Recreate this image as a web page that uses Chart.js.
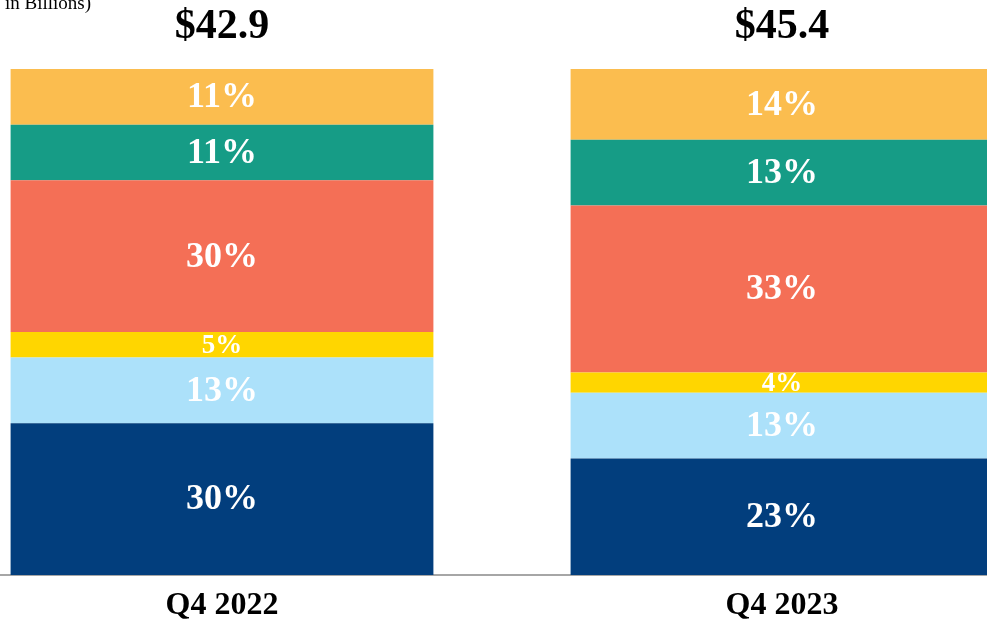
<!DOCTYPE html>
<html>
<head>
<meta charset="utf-8">
<script src="https://cdn.jsdelivr.net/npm/chart.js@4"></script>
<style>
  html, body { margin: 0; padding: 0; background: #fff; overflow: hidden; }
  #wrap { position: absolute; left: -58px; top: 0; width: 1120px; height: 623px; }
</style>
</head>
<body>
<div id="wrap"><canvas id="chart" width="1120" height="623"></canvas></div>
<script>
// quarters and their totals ($ in billions)
const quarters = ['Q4 2022', 'Q4 2023'];
const totals = [42.9, 45.4];

// share of total per segment, bottom of the stack first
const navyShare = [30, 23];
const lightBlueShare = [13, 13];
const yellowShare = [5, 4];
const coralShare = [30, 33];
const tealShare = [11, 13];
const orangeShare = [11, 14];

const serif = '"Liberation Serif", "Times New Roman", serif';

const series = [
    { label: 'Segment 1', data: navyShare, color: '#023E7D', size: 36 },
    { label: 'Segment 2', data: lightBlueShare, color: '#ACE1FA', size: 36 },
    { label: 'Segment 3', data: yellowShare, color: '#FFD600', size: 27 },
    { label: 'Segment 4', data: coralShare, color: '#F46F56', size: 36 },
    { label: 'Segment 5', data: tealShare, color: '#169C86', size: 36 },
    { label: 'Segment 6', data: orangeShare, color: '#FBBD4F', size: 36 }
];

// percent labels in the middle of every segment, totals above each bar
const labelPlugin = {
    id: 'labels',
    afterDatasetsDraw(chart) {
        const ctx = chart.ctx;
        ctx.save();
        ctx.textAlign = 'center';
        ctx.textBaseline = 'middle';
        ctx.fillStyle = '#fff';
        chart.data.datasets.forEach((ds, i) => {
            ctx.font = `bold ${series[i].size}px ${serif}`;
            chart.getDatasetMeta(i).data.forEach((bar, j) => {
                const p = bar.getProps(['x', 'y', 'base'], true);
                ctx.fillText(ds.data[j] + '%', p.x, (p.y + p.base) / 2 + 1);
            });
        });
        ctx.fillStyle = '#000';
        ctx.font = `bold 42px ${serif}`;
        chart.getDatasetMeta(0).data.forEach((bar, j) => {
            ctx.fillText('$' + totals[j].toFixed(1), bar.x, 27);
        });
        ctx.textAlign = 'left';
        ctx.textBaseline = 'alphabetic';
        ctx.font = `19px ${serif}`;
        ctx.fillText('in Billions)', 63, 9);
        ctx.restore();
    }
};

new Chart(document.getElementById('chart').getContext('2d'), {
    type: 'bar',
    data: {
        labels: quarters,
        datasets: series.map(s => ({
            label: s.label,
            data: s.data,
            backgroundColor: s.color,
            borderWidth: 0,
            barPercentage: 0.755,
            categoryPercentage: 1
        }))
    },
    options: {
        responsive: false,
        animation: false,
        layout: { padding: { top: 69, left: 0, right: 0, bottom: 0 } },
        plugins: {
            legend: { display: false },
            tooltip: { enabled: false }
        },
        scales: {
            x: {
                stacked: true,
                grid: { display: false, drawTicks: false },
                border: { display: true, color: '#A6A6A6', width: 2 },
                ticks: {
                    color: '#000',
                    padding: 15,
                    font: { family: serif, size: 32, weight: 'bold', lineHeight: 1 }
                },
                afterFit(scale) { scale.height = 48; }
            },
            y: {
                stacked: true,
                display: false,
                min: 0,
                max: 100
            }
        }
    },
    plugins: [labelPlugin]
});
</script>
</body>
</html>
